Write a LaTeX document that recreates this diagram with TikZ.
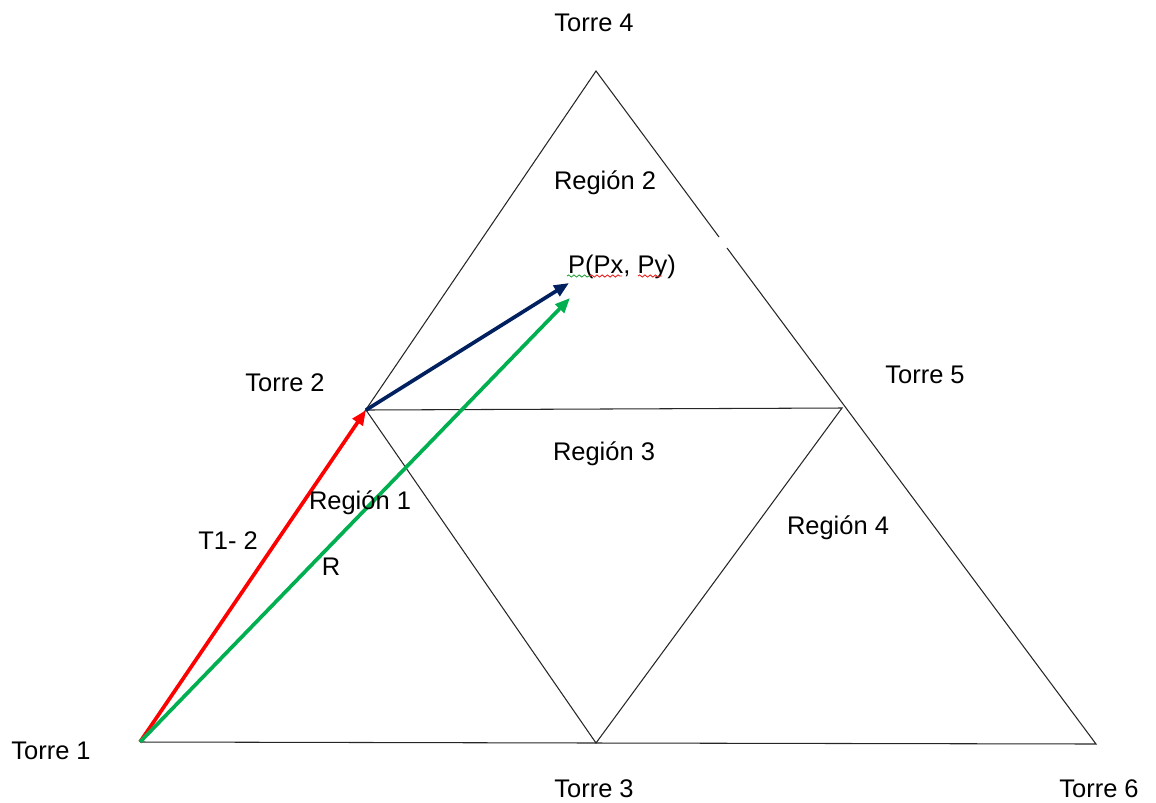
\documentclass[tikz,border=0pt]{standalone}
\usepackage{fontspec}
\setmainfont{Liberation Sans}
\usetikzlibrary{arrows.meta,decorations.pathmorphing}
\definecolor{offgreen}{RGB}{0,176,80}
\definecolor{offnavy}{RGB}{0,32,96}
\definecolor{sqgreen}{RGB}{40,160,60}
\definecolor{sqred}{RGB}{230,30,30}
\begin{document}
\begin{tikzpicture}[x=0.02cm,y=-0.02cm,
  edge/.style={draw=black!85,line width=0.6pt},
  vec/.style={line width=2.1pt,-{Triangle[length=0.3cm,width=0.24cm]}},
  lbl/.style={font=\fontsize{14.5pt}{17pt}\selectfont,anchor=base,inner sep=0pt},
  squig/.style={line width=0.5pt,decorate,decoration={snake,amplitude=0.6pt,segment length=3pt}}]
\useasboundingbox (0,0) rectangle (1156,802);
% vertices
\coordinate (T1) at (140,742);
\coordinate (T2) at (366,410);
\coordinate (T3) at (596,743);
\coordinate (T4) at (596,71);
\coordinate (T5) at (842,408);
\coordinate (T6) at (1096,744);
\coordinate (g1) at (719,237);
\coordinate (g2) at (727,248);
% outer triangle
\draw[edge] (T1) -- (T4) -- (g1);
\draw[edge] (g2) -- (T6) -- (T3) -- (T1);
% inner triangle
\draw[edge] (T2) -- (T5) -- (T3) -- cycle;
% vectors
\coordinate (P1) at (569,283);
\coordinate (P2) at (570,298);
\draw[vec,red] (T1) -- (T2);
\draw[vec,offgreen] (T1) -- (P2);
\draw[vec,offnavy] (T2) -- (P1);
% labels
\node[lbl] (l4) at (594,31) {Torre 4};
\node[lbl] (l2) at (285,391) {Torre 2};
\node[lbl] (l5) at (925,383) {Torre 5};
\node[lbl] (l1) at (51,759) {Torre 1};
\node[lbl] (l3) at (594,797) {Torre 3};
\node[lbl] (l6) at (1099,797) {Torre 6};
\node[lbl] (r2) at (605,189) {Región 2};
\node[lbl] (r3) at (604,460) {Región 3};
\node[lbl] (r1) at (360,509) {Región 1};
\node[lbl] (r4) at (838,534) {Región 4};
\node[lbl] (t12) at (228,549) {T1- 2};
\node[lbl] (rr) at (331,575) {R};
\node[lbl] (pp) at (622,273) {P(Px, Py)};
% spell-check squiggles
\coordinate (s1a) at (567,276); \coordinate (s1b) at (590,276);
\coordinate (s2a) at (590,276); \coordinate (s2b) at (622,276);
\coordinate (s3a) at (638,276); \coordinate (s3b) at (662,276);
\draw[squig,sqgreen] (s1a) -- (s1b);
\draw[squig,sqred] (s2a) -- (s2b);
\draw[squig,sqred] (s3a) -- (s3b);
\end{tikzpicture}
\end{document}
